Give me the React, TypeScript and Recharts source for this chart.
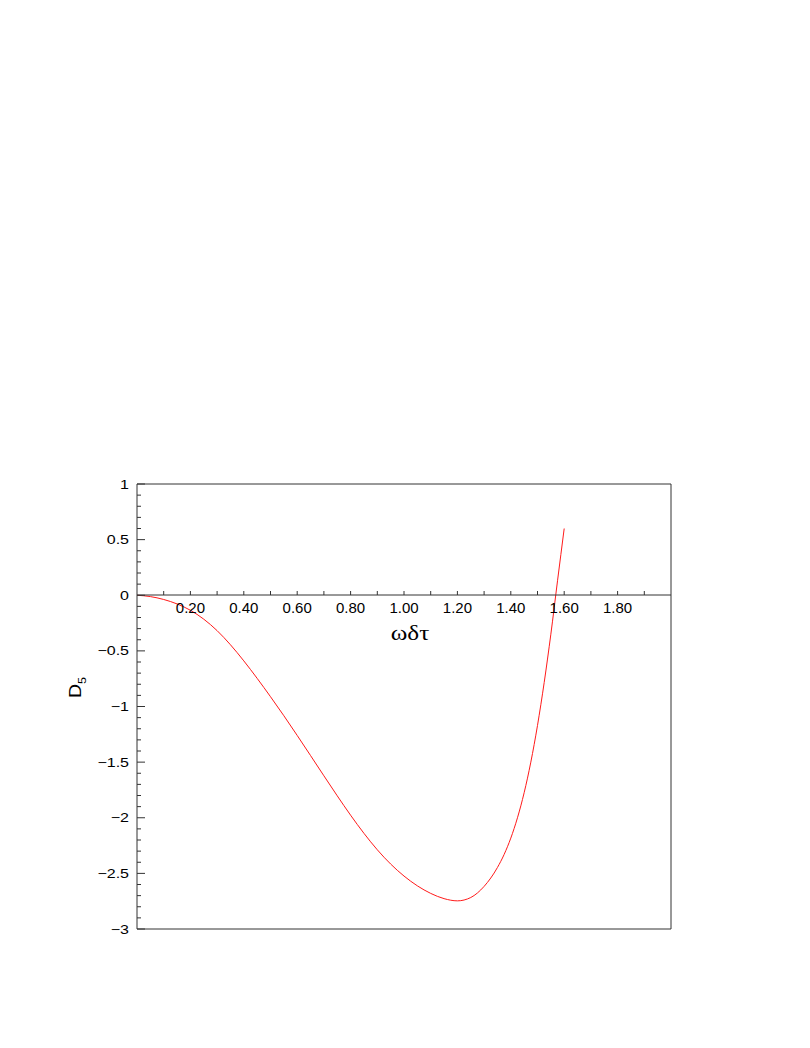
import React from 'react';
import { LineChart, Line, XAxis, YAxis } from 'recharts';

// ωδτ values and D5
const omegaDt = [0, 0.05, 0.1, 0.15, 0.2, 0.25, 0.3, 0.35, 0.4, 0.45, 0.5, 0.55, 0.6, 0.65, 0.7, 0.75, 0.8, 0.85, 0.9, 0.95, 1.0, 1.05, 1.1, 1.15, 1.2, 1.25, 1.3, 1.35, 1.375, 1.4, 1.425, 1.45, 1.475, 1.5, 1.525, 1.55, 1.575, 1.6];
const d5 = [0, -0.012, -0.038, -0.078, -0.135, -0.215, -0.318, -0.445, -0.59, -0.747, -0.912, -1.083, -1.26, -1.441, -1.623, -1.803, -1.977, -2.14, -2.288, -2.416, -2.524, -2.612, -2.68, -2.727, -2.747, -2.717, -2.617, -2.447, -2.33, -2.183, -2.0, -1.775, -1.5, -1.17, -0.785, -0.35, 0.13, 0.6];

const xTicks = [0.1, 0.2, 0.3, 0.4, 0.5, 0.6, 0.7, 0.8, 0.9, 1.0, 1.1, 1.2, 1.3, 1.4, 1.5, 1.6, 1.7, 1.8, 1.9];
const yTicks = [-3, -2.9, -2.8, -2.7, -2.6, -2.5, -2.4, -2.3, -2.2, -2.1, -2, -1.9, -1.8, -1.7, -1.6, -1.5, -1.4, -1.3, -1.2, -1.1, -1, -0.9, -0.8, -0.7, -0.6, -0.5, -0.4, -0.3, -0.2, -0.1, 0, 0.1, 0.2, 0.3, 0.4, 0.5, 0.6, 0.7, 0.8, 0.9, 1];

const data = omegaDt.map((x, i) => ({ x, y: d5[i] }));

const W = 810;
const H = 1048;
const LEFT = 137;
const RIGHT = W - 671;
const TOP = 484;
const BOTTOM = H - 929;
const ZERO_Y = 595;

const axisColor = '#333';
const sans = '"Liberation Sans", Arial, Helvetica, sans-serif';

const YTick = (props: any) => {
  const { x, y, payload } = props;
  const v = payload.value;
  const major = Math.abs(Math.round(v * 10) % 5) === 0;
  const label = v < 0 ? '\u2212' + String(Math.abs(v)) : String(v);
  return (
    <g>
      <line x1={x} y1={y} x2={x + (major ? 8 : 4)} y2={y} stroke={axisColor} />
      {major && (
        <g transform={`translate(${x - 8},${y + 4.5})`}>
          <text transform="scale(1.27,1)" textAnchor="end" fontSize={12.6} fontFamily={sans} fill="#000">
            {label}
          </text>
        </g>
      )}
    </g>
  );
};

const XTick = (props: any) => {
  const { x, y, payload } = props;
  const v = payload.value;
  const major = Math.round(v * 10) % 2 === 0;
  return (
    <g>
      <line x1={x} y1={y} x2={x} y2={y - 4} stroke={axisColor} />
      {major && (
        <text x={x} y={y + 18} textAnchor="middle" fontSize={15} fontFamily={sans} fill="#000">
          {v.toFixed(2)}
        </text>
      )}
    </g>
  );
};

const XLabel = () => (
  <g transform="translate(410,640)">
    <text transform="scale(1.2,1)" textAnchor="middle" fontSize={21} fontFamily='"Liberation Serif", "Times New Roman", serif' fill="#000">
      ωδτ
    </text>
  </g>
);

const YLabel = () => (
  <g transform="translate(81,698) rotate(-90) scale(1.15,1)">
    <text x={0} y={0} fontSize={17} fontFamily={sans} fill="#000">
      D<tspan fontSize={11} dy={5}>5</tspan>
    </text>
  </g>
);

export default function App() {
  return (
    <div style={{ position: 'absolute', left: 0, top: 0, width: W, height: H, background: '#fff' }}>
      <div style={{ position: 'absolute', left: 0, top: 0 }}>
        <LineChart width={W} height={H} data={data} margin={{ top: TOP - 1, right: RIGHT - 1, bottom: BOTTOM - 1, left: LEFT - 1 }}>
          <XAxis dataKey="x" type="number" domain={[0, 2]} height={1} tick={false} tickLine={false} axisLine={{ stroke: axisColor }} />
          <XAxis xAxisId="top" orientation="top" dataKey="x" type="number" domain={[0, 2]} height={1} tick={false} tickLine={false} axisLine={{ stroke: axisColor }} />
          <YAxis
            type="number"
            domain={[-3, 1]}
            ticks={yTicks}
            interval={0}
            width={1}
            tickSize={0}
            tickMargin={0}
            tickLine={false}
            tick={<YTick />}
            axisLine={{ stroke: axisColor }}
            label={{ content: () => <YLabel /> }}
          />
          <YAxis yAxisId="right" orientation="right" type="number" domain={[-3, 1]} width={1} tick={false} tickLine={false} axisLine={{ stroke: axisColor }} />
          <Line type="monotone" dataKey="y" stroke="#ff1a1a" strokeWidth={1} dot={false} activeDot={false} isAnimationActive={false} />
        </LineChart>
      </div>
      <div style={{ position: 'absolute', left: 0, top: 0, pointerEvents: 'none' }}>
        <LineChart width={W} height={H} data={data} margin={{ top: TOP, right: RIGHT, bottom: H - ZERO_Y - 1, left: LEFT }}>
          <XAxis
            dataKey="x"
            type="number"
            domain={[0, 2]}
            ticks={xTicks}
            interval={0}
            height={1}
            tickSize={0}
            tickMargin={0}
            tickLine={false}
            tick={<XTick />}
            axisLine={{ stroke: axisColor }}
            label={{ content: () => <XLabel /> }}
          />
          <YAxis type="number" domain={[0, 1]} hide width={0} />
        </LineChart>
      </div>
    </div>
  );
}
